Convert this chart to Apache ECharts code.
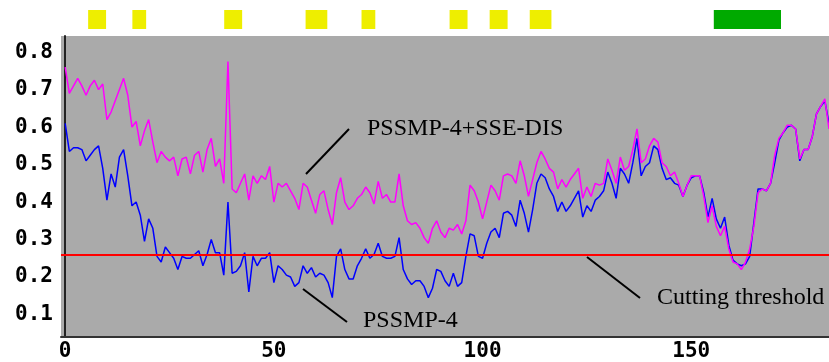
<!DOCTYPE html>
<html>
<head>
<meta charset="utf-8">
<script src="https://cdn.jsdelivr.net/npm/echarts@6/dist/echarts.min.js"></script>
<style>
  html, body { margin: 0; padding: 0; background: #fff; }
  #chart { width: 829px; height: 362px; }
</style>
</head>
<body>
<div id="chart"></div>
<script>
// residue scores, index 0..183
var pssmSse = [
  0.76, 0.69, 0.71, 0.73, 0.71, 0.685, 0.71, 0.725, 0.70, 0.715,
  0.62, 0.64, 0.67, 0.70, 0.73, 0.685, 0.60, 0.615, 0.55, 0.59,
  0.62, 0.56, 0.505, 0.535, 0.52, 0.51, 0.52, 0.47, 0.515, 0.52,
  0.475, 0.525, 0.535, 0.48, 0.54, 0.57, 0.495, 0.515, 0.45, 0.775,
  0.435, 0.425, 0.45, 0.475, 0.405, 0.47, 0.45, 0.47, 0.46, 0.495,
  0.40, 0.45, 0.44, 0.45, 0.43, 0.41, 0.38, 0.45, 0.44, 0.405,
  0.37, 0.42, 0.43, 0.38, 0.34, 0.425, 0.465, 0.40, 0.38, 0.39,
  0.41, 0.42, 0.44, 0.425, 0.395, 0.455, 0.41, 0.42, 0.40, 0.40,
  0.475, 0.39, 0.35, 0.34, 0.345, 0.33, 0.305, 0.29, 0.33, 0.35,
  0.32, 0.305, 0.33, 0.325, 0.34, 0.315, 0.35, 0.445, 0.43, 0.40,
  0.355, 0.40, 0.445, 0.43, 0.405, 0.47, 0.475, 0.47, 0.45, 0.51,
  0.47, 0.415, 0.46, 0.505, 0.535, 0.515, 0.49, 0.48, 0.435, 0.46,
  0.44, 0.46, 0.475, 0.49, 0.41, 0.44, 0.415, 0.45, 0.445, 0.45,
  0.515, 0.485, 0.45, 0.52, 0.485, 0.495, 0.54, 0.595, 0.505, 0.515,
  0.55, 0.57, 0.56, 0.505, 0.495, 0.47, 0.48, 0.45, 0.415, 0.445,
  0.47, 0.47, 0.47, 0.415, 0.345, 0.39, 0.335, 0.31, 0.335, 0.275,
  0.24, 0.235, 0.22, 0.24, 0.275, 0.335, 0.425, 0.435, 0.43, 0.45,
  0.525, 0.57, 0.585, 0.605, 0.605, 0.595, 0.515, 0.54, 0.54, 0.575,
  0.635, 0.655, 0.675, 0.595
];
var pssm = [
  0.61, 0.535, 0.545, 0.545, 0.54, 0.51, 0.525, 0.54, 0.55, 0.49,
  0.405, 0.475, 0.44, 0.52, 0.54, 0.47, 0.39, 0.40, 0.365, 0.295,
  0.355, 0.33, 0.255, 0.24, 0.28, 0.265, 0.25, 0.22, 0.255, 0.25,
  0.25, 0.26, 0.27, 0.23, 0.26, 0.30, 0.265, 0.265, 0.205, 0.40,
  0.21, 0.215, 0.23, 0.265, 0.16, 0.255, 0.23, 0.25, 0.25, 0.265,
  0.185, 0.23, 0.22, 0.205, 0.20, 0.175, 0.185, 0.23, 0.21, 0.225,
  0.20, 0.21, 0.205, 0.185, 0.145, 0.255, 0.275, 0.22, 0.195, 0.195,
  0.23, 0.25, 0.275, 0.25, 0.26, 0.29, 0.255, 0.25, 0.25, 0.255,
  0.305, 0.22, 0.195, 0.18, 0.19, 0.19, 0.175, 0.145, 0.17, 0.22,
  0.215, 0.19, 0.175, 0.21, 0.175, 0.185, 0.255, 0.315, 0.31, 0.255,
  0.25, 0.29, 0.32, 0.33, 0.305, 0.37, 0.375, 0.365, 0.335, 0.405,
  0.37, 0.32, 0.38, 0.45, 0.475, 0.465, 0.435, 0.415, 0.375, 0.40,
  0.375, 0.39, 0.41, 0.43, 0.36, 0.39, 0.375, 0.405, 0.415, 0.43,
  0.48, 0.45, 0.41, 0.49, 0.475, 0.45, 0.505, 0.57, 0.47, 0.495,
  0.505, 0.55, 0.54, 0.49, 0.46, 0.465, 0.45, 0.445, 0.415, 0.445,
  0.465, 0.47, 0.47, 0.425, 0.36, 0.41, 0.355, 0.33, 0.36, 0.285,
  0.245, 0.235, 0.23, 0.235, 0.255, 0.345, 0.435, 0.435, 0.43, 0.45,
  0.505, 0.565, 0.585, 0.60, 0.605, 0.595, 0.51, 0.54, 0.54, 0.575,
  0.635, 0.655, 0.67, 0.61
];
var threshold = 0.26;
// regions drawn above the plot [start, end] in residue index
var yellowRegions = [[5.5, 9.8], [16.1, 19.4], [38.1, 42.4], [57.6, 62.8], [71, 74.3], [92.1, 96.4], [101.7, 106], [111.3, 116.5]];
var greenRegions = [[155.4, 171.5]];

function pairs(arr) {
  return arr.map(function (v, i) { return [i, v]; });
}

function regionItem(params, api) {
  var p0 = api.coord([api.value(0), 1]);
  var p1 = api.coord([api.value(1), 0]);
  return {
    type: 'rect',
    shape: { x: p0[0], y: p0[1], width: p1[0] - p0[0], height: p1[1] - p0[1] },
    style: { fill: api.visual('color') }
  };
}

var tickFont = { fontFamily: 'DejaVu Sans Mono', fontWeight: 'bold', fontSize: 21, color: '#000' };
var noteFont = 'Liberation Serif';

var chart = echarts.init(document.getElementById('chart'));
chart.setOption({
  animation: false,
  backgroundColor: '#fff',
  grid: [
    { left: 61, right: 0, top: 36, bottom: 24, show: true, backgroundColor: '#aaaaaa', borderWidth: 0 },
    { left: 61, right: 0, top: 10, height: 19 }
  ],
  xAxis: [
    {
      type: 'value', gridIndex: 0, min: -1, max: 183, minInterval: 50, maxInterval: 50,
      axisLine: { lineStyle: { color: '#333', width: 2 } },
      axisTick: { show: false },
      splitLine: { show: false },
      axisLabel: Object.assign({ margin: 4, showMinLabel: false, showMaxLabel: false }, tickFont)
    },
    { type: 'value', gridIndex: 1, min: -1, max: 183, show: false }
  ],
  yAxis: [
    {
      type: 'value', gridIndex: 0, min: 0.04, max: 0.843, minInterval: 0.1, maxInterval: 0.1,
      axisLine: { show: true, lineStyle: { color: '#222', width: 2 } },
      axisTick: { show: false },
      splitLine: { show: false },
      axisLabel: Object.assign({
        margin: 8, showMinLabel: false, showMaxLabel: false,
        formatter: function (v) { return v.toFixed(1); }
      }, tickFont)
    },
    { type: 'value', gridIndex: 1, min: 0, max: 1, show: false }
  ],
  series: [
    {
      name: 'PSSMP-4', type: 'line', data: pairs(pssm), showSymbol: false,
      lineStyle: { color: '#0000ff', width: 1.5 }, z: 3,
      markLine: {
        silent: true, symbol: 'none', label: { show: false },
        lineStyle: { color: '#ff0000', width: 2, type: 'solid' },
        data: [{ yAxis: threshold }]
      }
    },
    {
      name: 'PSSMP-4+SSE-DIS', type: 'line', data: pairs(pssmSse), showSymbol: false,
      lineStyle: { color: '#ff00ff', width: 1.5 }, z: 4
    },
    {
      type: 'custom', xAxisIndex: 1, yAxisIndex: 1, renderItem: regionItem,
      itemStyle: { color: '#eeee00' }, data: yellowRegions
    },
    {
      type: 'custom', xAxisIndex: 1, yAxisIndex: 1, renderItem: regionItem,
      itemStyle: { color: '#00aa00' }, data: greenRegions
    }
  ],
  graphic: [
    { type: 'line', shape: { x1: 349, y1: 129, x2: 306, y2: 174 }, style: { stroke: '#000', lineWidth: 2 }, z: 10 },
    { type: 'line', shape: { x1: 303, y1: 289, x2: 347, y2: 322 }, style: { stroke: '#000', lineWidth: 2 }, z: 10 },
    { type: 'line', shape: { x1: 587, y1: 257, x2: 640, y2: 298 }, style: { stroke: '#000', lineWidth: 2 }, z: 10 },
    { type: 'text', x: 367, y: 129, z: 10, style: { text: 'PSSMP-4+SSE-DIS', font: '24px ' + noteFont, fill: '#000', verticalAlign: 'middle' } },
    { type: 'text', x: 363, y: 321, z: 10, style: { text: 'PSSMP-4', font: '24px ' + noteFont, fill: '#000', verticalAlign: 'middle' } },
    { type: 'text', x: 657, y: 298, z: 10, style: { text: 'Cutting threshold', font: '24px ' + noteFont, fill: '#000', verticalAlign: 'middle' } }
  ]
});
</script>
</body>
</html>
